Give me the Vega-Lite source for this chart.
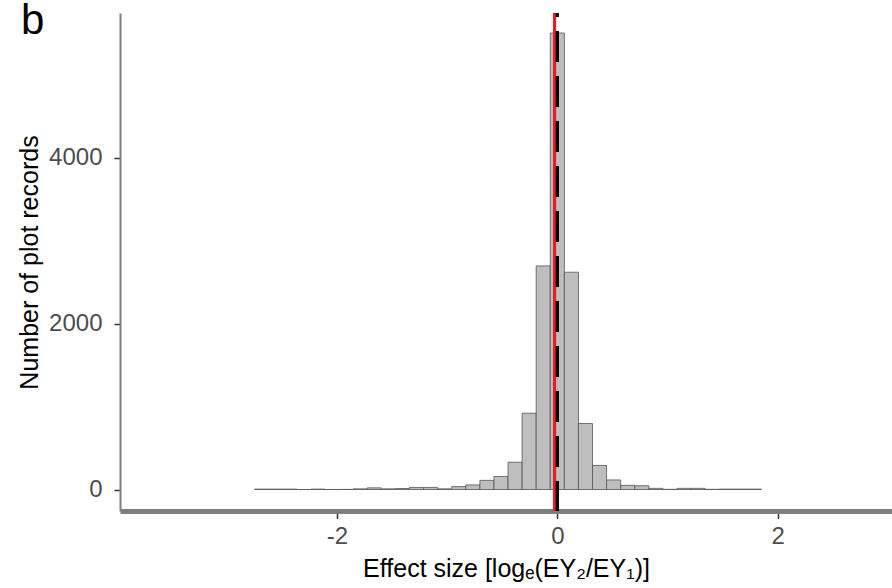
{
  "$schema": "https://vega.github.io/schema/vega-lite/v6.json",
  "autosize": {"type": "none"},
  "width": 772,
  "height": 498,
  "padding": {"left": 120, "top": 13, "right": 0, "bottom": 77},
  "background": "white",
  "title": {
    "text": "b",
    "anchor": "start",
    "frame": "group",
    "orient": "top",
    "fontSize": 42,
    "fontWeight": "normal",
    "font": "Liberation Sans",
    "color": "black",
    "baseline": "alphabetic",
    "offset": 0,
    "dx": -99,
    "dy": 65
  },
  "config": {
    "view": {"stroke": null},
    "font": "Liberation Sans",
    "axis": {
      "grid": false,
      "labelFont": "Liberation Sans",
      "titleFont": "Liberation Sans",
      "labelColor": "#4d4d4d",
      "titleColor": "black",
      "labelFontSize": 24,
      "titleFontSize": 25,
      "titleFontWeight": "normal",
      "domainColor": "#7f7f7f",
      "tickColor": "#333333",
      "tickWidth": 1.5
    }
  },
  "layer": [
    {
      "data": {
        "values": [
          {"bin_start": -2.7456, "bin_end": -2.6179, "count": 5},
          {"bin_start": -2.6179, "bin_end": -2.4902, "count": 5},
          {"bin_start": -2.4902, "bin_end": -2.3625, "count": 5},
          {"bin_start": -2.3625, "bin_end": -2.2348, "count": 0},
          {"bin_start": -2.2348, "bin_end": -2.1071, "count": 5},
          {"bin_start": -2.1071, "bin_end": -1.9794, "count": 0},
          {"bin_start": -1.9794, "bin_end": -1.8517, "count": 1},
          {"bin_start": -1.8517, "bin_end": -1.724, "count": 8},
          {"bin_start": -1.724, "bin_end": -1.5963, "count": 20},
          {"bin_start": -1.5963, "bin_end": -1.4686, "count": 8},
          {"bin_start": -1.4686, "bin_end": -1.3409, "count": 12},
          {"bin_start": -1.3409, "bin_end": -1.2132, "count": 25},
          {"bin_start": -1.2132, "bin_end": -1.0855, "count": 25},
          {"bin_start": -1.0855, "bin_end": -0.9578, "count": 8},
          {"bin_start": -0.9578, "bin_end": -0.8301, "count": 35},
          {"bin_start": -0.8301, "bin_end": -0.7024, "count": 55},
          {"bin_start": -0.7024, "bin_end": -0.5747, "count": 110},
          {"bin_start": -0.5747, "bin_end": -0.447, "count": 157},
          {"bin_start": -0.447, "bin_end": -0.3193, "count": 329},
          {"bin_start": -0.3193, "bin_end": -0.1916, "count": 919},
          {"bin_start": -0.1916, "bin_end": -0.0639, "count": 2694},
          {"bin_start": -0.0639, "bin_end": 0.0639, "count": 5500},
          {"bin_start": 0.0639, "bin_end": 0.1916, "count": 2618},
          {"bin_start": 0.1916, "bin_end": 0.3193, "count": 795},
          {"bin_start": 0.3193, "bin_end": 0.447, "count": 290},
          {"bin_start": 0.447, "bin_end": 0.5747, "count": 115},
          {"bin_start": 0.5747, "bin_end": 0.7024, "count": 50},
          {"bin_start": 0.7024, "bin_end": 0.8301, "count": 45},
          {"bin_start": 0.8301, "bin_end": 0.9578, "count": 14},
          {"bin_start": 0.9578, "bin_end": 1.0855, "count": 2},
          {"bin_start": 1.0855, "bin_end": 1.2132, "count": 14},
          {"bin_start": 1.2132, "bin_end": 1.3409, "count": 14},
          {"bin_start": 1.3409, "bin_end": 1.4686, "count": 2},
          {"bin_start": 1.4686, "bin_end": 1.5963, "count": 5},
          {"bin_start": 1.5963, "bin_end": 1.724, "count": 5},
          {"bin_start": 1.724, "bin_end": 1.8517, "count": 5}
        ]
      },
      "mark": {"type": "bar", "fill": "#bebebe", "stroke": "#555555", "strokeWidth": 0.8},
      "encoding": {
        "x": {
          "field": "bin_start",
          "type": "quantitative",
          "scale": {"domain": [-3.967, 3.036], "nice": false, "zero": false},
          "axis": {
            "title": "Effect size [logₑ(EY₂/EY₁)]",
            "values": [-2, 0, 2],
            "labelExpr": "'' + datum.value",
            "domainWidth": 5,
            "tickSize": 7.5,
            "labelPadding": 6,
            "titlePadding": 8
          }
        },
        "x2": {"field": "bin_end"},
        "y": {
          "field": "count",
          "type": "quantitative",
          "scale": {"domain": [-259, 5741], "nice": false, "zero": false},
          "axis": {
            "title": "Number of plot records",
            "values": [0, 2000, 4000],
            "labelExpr": "'' + datum.value",
            "domainWidth": 2,
            "tickSize": 6,
            "labelPadding": 12,
            "titlePadding": 6
          }
        },
        "y2": {"datum": 0}
      }
    },
    {
      "data": {"values": [{"position": -0.025}]},
      "mark": {"type": "rule", "color": "#ec1c24", "strokeWidth": 3.2},
      "encoding": {"x": {"field": "position", "type": "quantitative"}}
    },
    {
      "data": {"values": [{"position": 0}]},
      "mark": {"type": "rule", "color": "black", "strokeWidth": 3.3, "strokeDash": [31, 14], "strokeDashOffset": 27},
      "encoding": {"x": {"field": "position", "type": "quantitative"}}
    }
  ]
}
